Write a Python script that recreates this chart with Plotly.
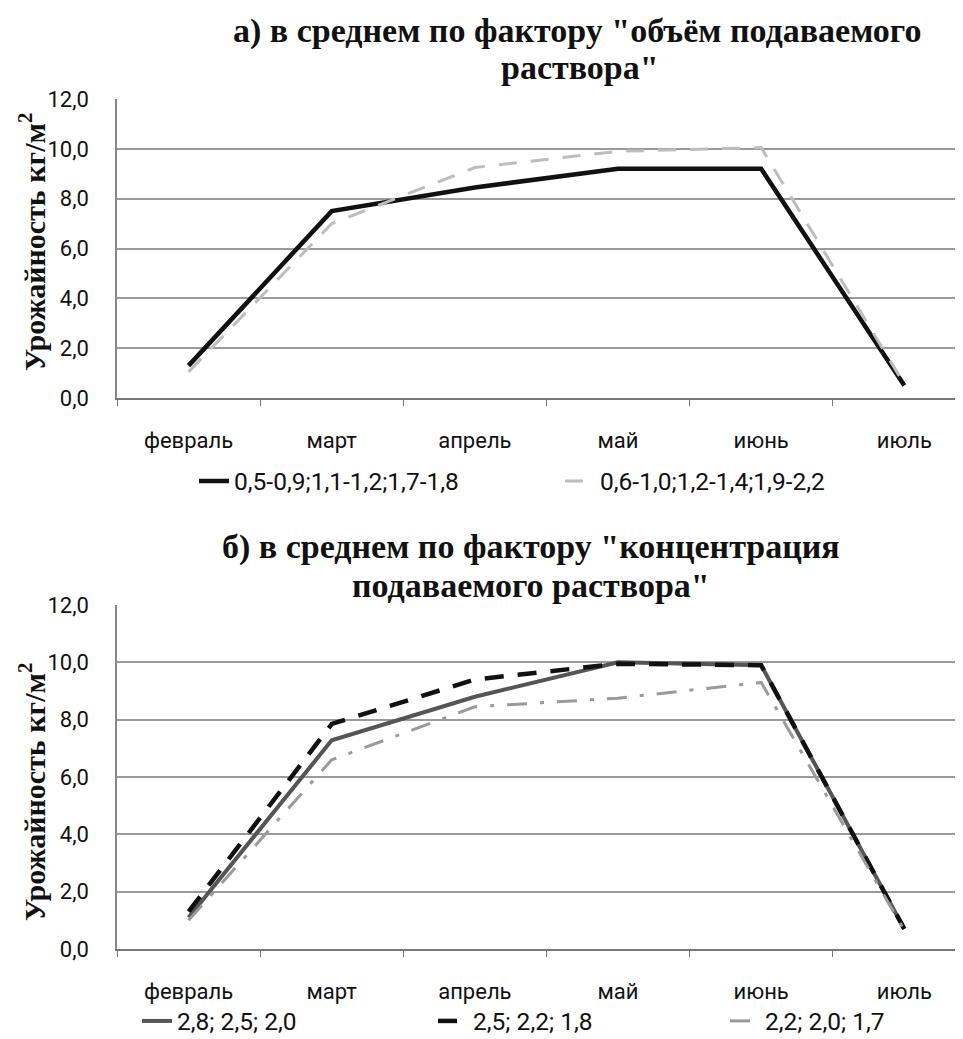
import plotly.graph_objects as go

# ---- data ----
months = ["февраль", "март", "апрель", "май", "июнь", "июль"]
y_ticks = [0, 2, 4, 6, 8, 10, 12]

vol_names = ["0,5-0,9;1,1-1,2;1,7-1,8", "0,6-1,0;1,2-1,4;1,9-2,2"]
vol_1 = [1.3, 7.5, 8.45, 9.2, 9.2, 0.5]
vol_2 = [1.05, 7.0, 9.25, 9.9, 10.05, 0.55]

conc_names = ["2,8; 2,5; 2,0", "2,5; 2,2; 1,8", "2,2; 2,0; 1,7"]
conc_1 = [1.1, 7.28, 8.8, 10.0, 9.9, 0.7]
conc_2 = [1.3, 7.85, 9.4, 9.95, 9.9, 0.7]
conc_3 = [1.0, 6.6, 8.45, 8.75, 9.3, 0.65]

title_a = ["а) в среднем по фактору \"объём подаваемого", "раствора\""]
title_b = ["б) в среднем по фактору \"концентрация", "подаваемого раствора\""]
y_title = "Урожайность кг/м<sup>2</sup>"

OFF = 8                      # page body margin in the browser
SW, SH = 963, 1039           # screen size
W, H = SW - OFF, SH - OFF    # figure size
SANS = "Roboto"
SERIF = "Liberation Serif"

def px(sx):
    return (sx - OFF) / W

def py(sy):
    return 1 - (sy - OFF) / H

fig = go.Figure()

fig.add_trace(go.Scatter(x=months, y=vol_1, name=vol_names[0], mode="lines",
                         line=dict(color="#111111", width=4.5), xaxis="x", yaxis="y", legend="legend"))
fig.add_trace(go.Scatter(x=months, y=vol_2, name=vol_names[1], mode="lines",
                         line=dict(color="#bdbdbd", width=3, dash="18px,14px"), xaxis="x", yaxis="y", legend="legend2"))

fig.add_trace(go.Scatter(x=months, y=conc_1, name=conc_names[0], mode="lines",
                         line=dict(color="#555555", width=4), xaxis="x2", yaxis="y2", legend="legend3"))
fig.add_trace(go.Scatter(x=months, y=conc_2, name=conc_names[1], mode="lines",
                         line=dict(color="#111111", width=4.5, dash="19px,14px"), xaxis="x2", yaxis="y2", legend="legend4"))
fig.add_trace(go.Scatter(x=months, y=conc_3, name=conc_names[2], mode="lines",
                         line=dict(color="#9a9a9a", width=3, dash="20px,13px,4px,13px"), xaxis="x2", yaxis="y2", legend="legend5"))

xr = [-0.5, 5.41]

def xaxis(anchor):
    return dict(domain=[px(117), 1.0], anchor=anchor, type="category", range=xr,
                showgrid=False, showline=True, linecolor="#777777", linewidth=1.5,
                ticks="outside", tickson="boundaries", ticklen=6, tickcolor="#777777",
                tickfont=dict(family=SANS, size=22, color="#111111"),
                ticklabelstandoff=22)

def yaxis(anchor, dom):
    return dict(domain=dom, anchor=anchor, range=[0, 12], tickvals=y_ticks, tickformat=".1f",
                showgrid=True, gridcolor="#9a9a9a", gridwidth=1.5,
                showline=True, linecolor="#888888", linewidth=1.5, zeroline=False,
                ticks="", tickfont=dict(family=SANS, size=22, color="#111111"),
                ticklabelstandoff=22)

dom_a = [py(398), py(99)]
dom_b = [py(949), py(605)]

ann = []
for txt, yy, xx in [(title_a[0], 31, 577), (title_a[1], 68, 580),
                    (title_b[0], 547, 531), (title_b[1], 585, 531)]:
    ann.append(dict(text="<b>" + txt + "</b>", x=px(xx), y=py(yy), xref="paper", yref="paper",
                    showarrow=False, xanchor="center", yanchor="middle",
                    font=dict(family=SERIF, size=34, color="#111111")))
for yy in [242, 792]:
    ann.append(dict(text="<b>" + y_title + "</b>", x=px(32), y=py(yy), xref="paper", yref="paper",
                    showarrow=False, textangle=-90, xanchor="center", yanchor="middle",
                    font=dict(family=SERIF, size=30, color="#111111")))

def leg(text_x, yc):
    return dict(orientation="h", xref="container", yref="container",
                x=px(text_x - 42), y=py(yc), xanchor="left", yanchor="middle",
                font=dict(family=SANS, size=24.5, color="#111111"),
                bgcolor="rgba(0,0,0,0)", borderwidth=0)

fig.update_layout(
    width=W, height=H, margin=dict(l=0, r=0, t=0, b=0, autoexpand=False),
    paper_bgcolor="white", plot_bgcolor="white", separators=", ",
    xaxis=xaxis("y"), yaxis=yaxis("x", dom_a),
    xaxis2=xaxis("y2"), yaxis2=yaxis("x2", dom_b),
    annotations=ann,
    legend=leg(236, 481),
    legend2=leg(602, 481),
    legend3=leg(179, 1021),
    legend4=leg(475, 1021),
    legend5=leg(767, 1021),
    showlegend=True,
)

fig.write_html("out.html")
